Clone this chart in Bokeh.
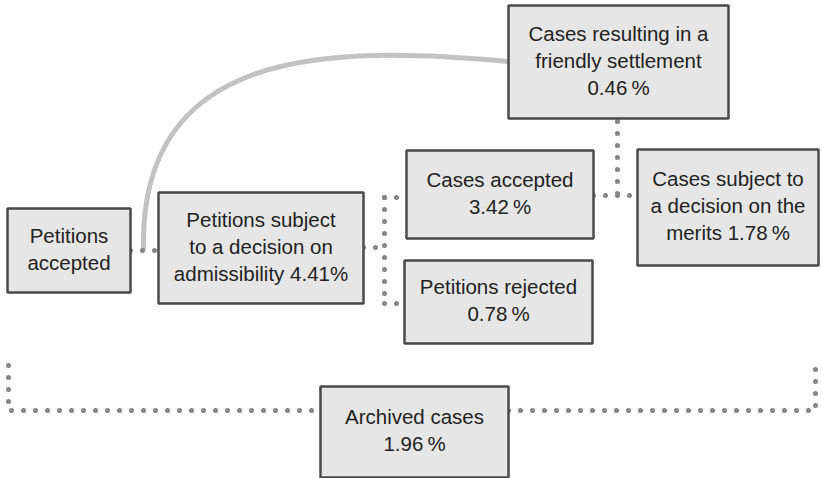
from bokeh.plotting import figure
from bokeh.models import Range1d, ColumnDataSource
from bokeh.core.properties import value
from bokeh.embed import file_html
from bokeh.resources import INLINE

# ---- data ----
stages = ["Petitions accepted",
          "Petitions subject to a decision on admissibility",
          "Cases resulting in a friendly settlement",
          "Cases accepted",
          "Cases subject to a decision on the merits",
          "Petitions rejected",
          "Archived cases"]
shares = [None, 4.41, 0.46, 3.42, 1.78, 0.78, 1.96]
label_lines = [
    ["Petitions", "accepted"],
    ["Petitions subject", "to a decision on", "admissibility {}%"],
    ["Cases resulting in a", "friendly settlement", "{}\u2009%"],
    ["Cases accepted", "{}\u2009%"],
    ["Cases subject to", "a decision on the", "merits {}\u2009%"],
    ["Petitions rejected", "{}\u2009%"],
    ["Archived cases", "{}\u2009%"],
]

# ---- layout (pixel space) ----
box_left = [7, 158, 508, 406, 637, 404, 320]
box_right = [130, 363, 728, 593, 818, 592, 508]
box_top = [208, 192, 5, 150, 149, 260, 386]
box_bottom = [292, 303, 118, 238, 265, 343, 477]
LINE_H = 27

W, H = 822, 478
p = figure(width=W, height=H, output_backend="svg", toolbar_location=None,
           x_range=Range1d(0, W), y_range=Range1d(H, 0),
           min_border=0, outline_line_color=None, background_fill_color="white")
p.axis.visible = False
p.grid.visible = False

# curved solid connector
p.bezier(x0=[143], y0=[250], x1=[508], y1=[61], cx0=[138], cy0=[45], cx1=[330], cy1=[45],
         line_color="#c2c2c2", line_width=5)

# dotted connectors
dot = dict(line_color="#858585", line_width=5, line_dash="0 12", line_cap="round")
segs = [
    ([130, 158], [250, 250]),
    ([363, 384], [247, 247]),
    ([384, 384], [197, 303]),
    ([384, 406], [197, 197]),
    ([384, 404], [303, 303]),
    ([593, 637], [195, 195]),
    ([617, 617], [121, 195]),
    ([8, 8, 320], [365, 410, 410]),
    ([508, 815, 815], [410, 410, 365]),
]
for xs, ys in segs:
    p.line(xs, ys, **dot)

# boxes
p.quad(left=box_left, right=box_right, top=box_top, bottom=box_bottom,
       fill_color="#e6e6e6", line_color="#4a4a4a", line_width=2.5)

# labels
tx, ty, tt = [], [], []
for i, lines in enumerate(label_lines):
    cx = (box_left[i] + box_right[i]) / 2
    cy = (box_top[i] + box_bottom[i]) / 2 - 2
    n = len(lines)
    for j, ln in enumerate(lines):
        s = ln.format(f"{shares[i]:.2f}") if "{}" in ln else ln
        tx.append(cx)
        ty.append(cy + (j - (n - 1) / 2) * LINE_H)
        tt.append(s)
src = ColumnDataSource(dict(x=tx, y=ty, text=tt))
p.text(x="x", y="y", text="text", source=src, text_align="center", text_baseline="middle",
       text_font=value("Liberation Sans"), text_font_size="20.5px", text_color="#222222")

open("out.html", "w").write(file_html(p, INLINE))
